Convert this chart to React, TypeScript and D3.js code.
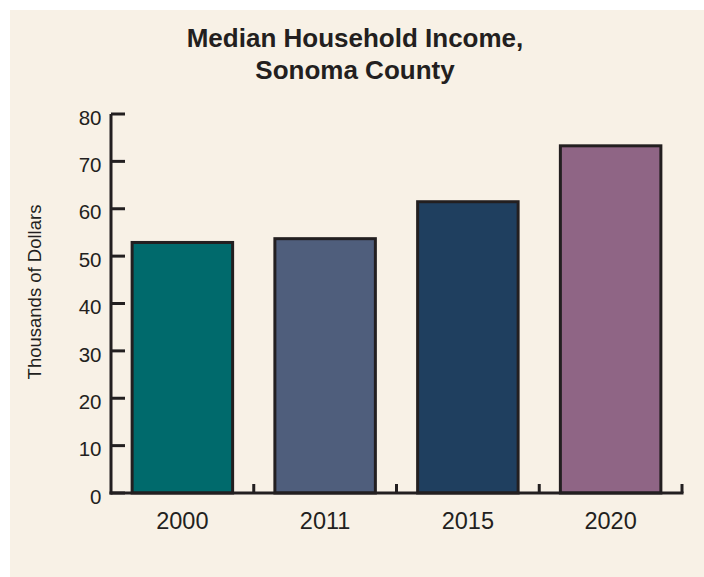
import React from "react";
import * as d3 from "d3";

const categories = ["2000", "2011", "2015", "2020"];
const values = [53.2, 54.0, 61.8, 73.6];
const colors = ["#006a6c", "#4f5e7c", "#1f3f5f", "#8f6585"];
const yTicks = [0, 10, 20, 30, 40, 50, 60, 70, 80];
const titleLines = ["Median Household Income,", "Sonoma County"];
const yLabel = "Thousands of Dollars";

const W = 704;
const H = 577;
const left = 111;
const right = 682;
const top = 114;
const bottom = 493;
const ink = "#231f20";
const font = "'Liberation Sans', Arial, Helvetica, sans-serif";

export default function App() {
  const x = d3.scaleBand<string>().domain(categories).range([left, right]).padding(0);
  const y = d3.scaleLinear().domain([0, 80]).range([bottom, top]);
  const step = x.step();
  const bw = step * 0.725;
  const boundaries = categories.map((c) => (x(c) as number) + step);

  return (
    <svg
      width={W}
      height={H}
      style={{ position: "absolute", left: 0, top: 0, display: "block" }}
    >
      <rect x={10} y={10} width={W} height={H} fill="#f8f1e6" />
      <g fontFamily={font} fill={ink}>
        {titleLines.map((t, i) => (
          <text
            key={t}
            x={355}
            y={47 + i * 32}
            textAnchor="middle"
            fontSize={26}
            fontWeight="bold"
          >
            {t}
          </text>
        ))}
        <text
          transform={`translate(41, 292) rotate(-90)`}
          textAnchor="middle"
          fontSize={18.5}
        >
          {yLabel}
        </text>
      </g>
      {categories.map((c, i) => {
        const cx = (x(c) as number) + step / 2;
        return (
          <rect
            key={c}
            x={cx - bw / 2 + 1.5}
            y={y(values[i]) + 1.5}
            width={bw - 3}
            height={bottom - y(values[i]) - 1.5}
            fill={colors[i]}
            stroke={ink}
            strokeWidth={3}
          />
        );
      })}
      <g stroke={ink} strokeWidth={3} fill="none">
        <line x1={left} x2={left} y1={top} y2={bottom + 1.5} />
        <line x1={left - 1.5} x2={right + 1.5} y1={bottom} y2={bottom} />
        {yTicks.map((t) => (
          <line key={t} x1={left} x2={left + 14} y1={y(t)} y2={y(t)} />
        ))}
        {boundaries.map((b, i) => (
          <line key={i} x1={b} x2={b} y1={bottom} y2={bottom - 9} />
        ))}
      </g>
      <g fontFamily={font} fill={ink}>
        {yTicks.map((t) => (
          <text key={t} x={101.5} y={y(t) + 3.5} dy="0.35em" textAnchor="end" fontSize={20.5}>
            {t}
          </text>
        ))}
        {categories.map((c) => (
          <text
            key={c}
            x={(x(c) as number) + step / 2}
            y={529}
            textAnchor="middle"
            fontSize={23.5}
          >
            {c}
          </text>
        ))}
      </g>
    </svg>
  );
}
